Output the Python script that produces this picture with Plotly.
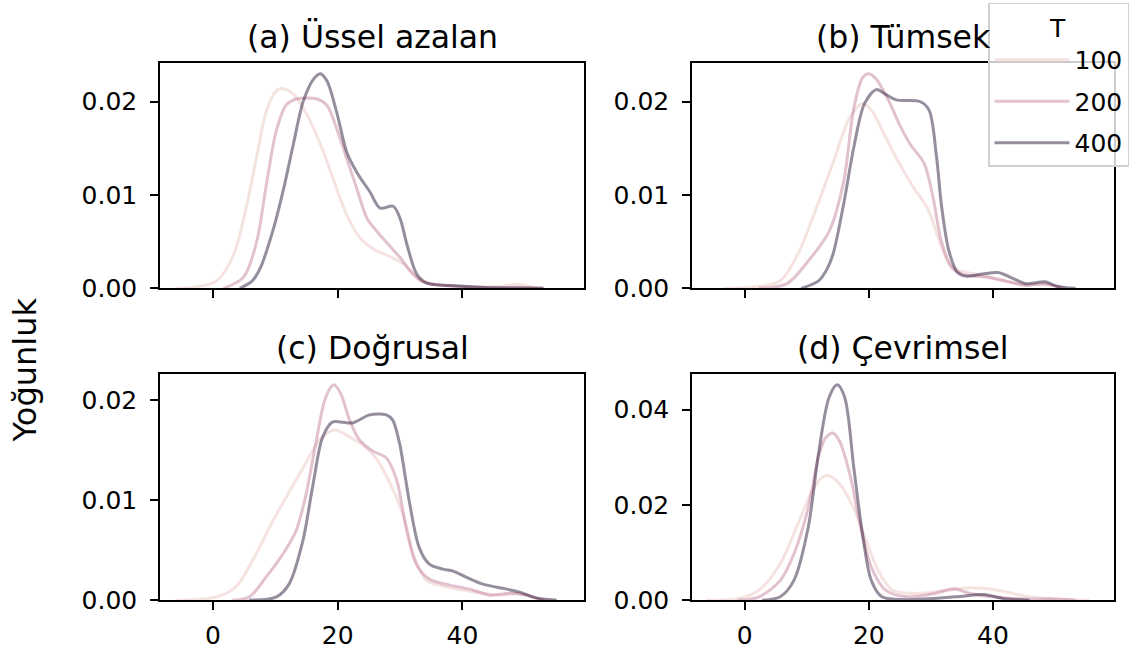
import plotly.graph_objects as go

W, H = 1141, 665

T_LEVELS = [100, 200, 400]
PANEL_TITLES = ["(a) Üssel azalan", "(b) Tümsek", "(c) Doğrusal", "(d) Çevrimsel"]
Y_LABEL = "Yoğunluk"
LEGEND_TITLE = "T"
X_TICKS = [0, 20, 40]
Y_TICKS_ABC = [0.00, 0.01, 0.02]
Y_TICKS_D = [0.00, 0.02, 0.04]

# (a) Üssel azalan
a_x_100 = [-6.0, -3.2, 0.6, 3.3, 5.4, 7.0, 8.6, 10.2, 11.3, 12.9, 15.0, 17.2, 19.3, 21.5, 23.6, 25.8, 28.4, 30.6, 32.7, 34.9, 40.8, 46.1, 48.8, 52.0]
a_y_100 = [0.0, 0.0001, 0.0008, 0.0036, 0.0089, 0.0141, 0.0191, 0.0212, 0.0214, 0.0208, 0.0187, 0.0155, 0.0117, 0.0078, 0.0054, 0.0042, 0.0034, 0.0026, 0.0012, 0.0005, 0.0002, 0.0002, 0.0004, 0.0]
a_x_200 = [1.7, 4.9, 7.0, 8.6, 10.2, 11.8, 13.4, 16.7, 18.3, 19.9, 21.5, 23.1, 24.7, 26.3, 28.4, 30.0, 31.6, 33.3, 35.9, 43.4, 48.8, 53.0]
a_y_200 = [0.0, 0.0012, 0.0050, 0.0113, 0.0170, 0.0197, 0.0203, 0.0203, 0.0196, 0.0170, 0.0138, 0.0106, 0.0075, 0.0061, 0.0045, 0.0033, 0.0019, 0.0008, 0.0004, 0.0001, 0.0001, 0.0]
a_x_400 = [4.3, 6.3, 7.6, 9.7, 11.3, 12.9, 14.5, 16.1, 17.2, 18.3, 19.9, 21.5, 23.1, 25.2, 26.8, 28.9, 30.0, 31.1, 32.7, 34.3, 38.1, 43.4, 48.8, 53.0]
a_y_400 = [0.0, 0.0008, 0.0022, 0.0064, 0.0106, 0.0155, 0.0201, 0.0224, 0.0230, 0.0222, 0.0187, 0.0145, 0.0124, 0.0103, 0.0086, 0.0088, 0.0075, 0.0047, 0.0015, 0.00055, 0.0003, 0.0001, 0.00003, 0.0]

# (b) Tümsek
b_x_100 = [-3.4, 2.3, 5.7, 8.5, 11.3, 14.2, 17.0, 19.0, 20.4, 22.7, 24.9, 27.2, 29.5, 31.2, 32.9, 34.6, 37.4, 40.8, 44.2, 48.2, 51.6]
b_y_100 = [0.0, 0.0002, 0.0008, 0.0036, 0.0082, 0.0134, 0.0184, 0.0198, 0.0191, 0.0162, 0.0134, 0.0108, 0.0085, 0.0054, 0.0027, 0.0019, 0.0015, 0.0010, 0.0005, 0.0004, 0.0001]
b_x_200 = [2.3, 6.8, 10.2, 13.6, 15.9, 17.6, 19.0, 20.0, 21.2, 23.2, 24.9, 26.6, 28.9, 30.3, 31.7, 33.4, 35.1, 39.1, 43.1, 45.3, 48.2, 51.0]
b_y_200 = [0.0, 0.0005, 0.0029, 0.0061, 0.0113, 0.0194, 0.0226, 0.0230, 0.0224, 0.0201, 0.0176, 0.0155, 0.0134, 0.0099, 0.0050, 0.0022, 0.0015, 0.0012, 0.0006, 0.0003, 0.0005, 0.0001]
b_x_400 = [9.1, 11.9, 13.2, 14.2, 15.9, 17.6, 19.3, 21.2, 22.7, 24.4, 28.3, 29.7, 30.9, 31.7, 32.9, 34.3, 35.7, 38.0, 40.8, 43.1, 45.3, 48.4, 50.4, 53.3]
b_y_400 = [0.0, 0.0008, 0.0020, 0.0036, 0.0089, 0.0152, 0.0198, 0.0213, 0.0208, 0.0202, 0.0200, 0.0191, 0.0141, 0.0089, 0.0040, 0.0017, 0.0013, 0.0015, 0.0017, 0.0011, 0.0005, 0.0007, 0.0002, 0.0]

# (c) Doğrusal
c_x_100 = [-6.0, 0.4, 3.6, 6.9, 9.5, 12.2, 14.9, 17.1, 19.5, 21.9, 24.0, 26.2, 28.3, 30.5, 32.1, 34.2, 36.9, 40.1, 43.3, 46.5, 48.7, 51.9, 55.0]
c_y_100 = [0.0, 0.0003, 0.0013, 0.0046, 0.0078, 0.0108, 0.0137, 0.0160, 0.0170, 0.0163, 0.0155, 0.0141, 0.0118, 0.0085, 0.0046, 0.0020, 0.0014, 0.0010, 0.0007, 0.0005, 0.0007, 0.0002, 0.0]
c_x_200 = [3.1, 5.8, 8.5, 11.2, 13.3, 14.9, 16.5, 18.1, 19.4, 20.5, 21.9, 23.5, 25.6, 27.8, 29.4, 31.0, 32.6, 34.7, 38.0, 41.2, 44.4, 47.6, 50.3, 53.0]
c_y_200 = [0.0, 0.0003, 0.0023, 0.0046, 0.0069, 0.0105, 0.0157, 0.0203, 0.0215, 0.0206, 0.0180, 0.0160, 0.0149, 0.0142, 0.0121, 0.0072, 0.0036, 0.0021, 0.0015, 0.0011, 0.0005, 0.0007, 0.0005, 0.0]
c_x_400 = [5.8, 10.1, 12.2, 14.4, 16.0, 17.6, 19.2, 20.5, 22.4, 25.1, 27.8, 28.8, 29.9, 31.5, 33.1, 34.7, 36.9, 38.5, 40.6, 43.3, 47.1, 49.2, 51.9, 55.1]
c_y_400 = [0.0, 0.0003, 0.0016, 0.0059, 0.0114, 0.0163, 0.0178, 0.0178, 0.0177, 0.0185, 0.0185, 0.0180, 0.0157, 0.0098, 0.0052, 0.0036, 0.0031, 0.0029, 0.0023, 0.0016, 0.0011, 0.0008, 0.0002, 0.0]

# (d) Çevrimsel
d_x_100 = [-6.2, -1.1, 2.3, 5.7, 8.5, 10.8, 12.5, 13.6, 15.3, 17.6, 19.8, 21.5, 23.8, 27.2, 31.7, 36.3, 40.8, 45.3, 49.9, 55.5]
d_y_100 = [0.0, 0.0003, 0.0021, 0.0076, 0.0158, 0.0227, 0.0258, 0.0261, 0.0244, 0.0192, 0.0117, 0.0062, 0.0021, 0.0014, 0.0019, 0.0026, 0.0021, 0.0008, 0.0002, 0.0]
d_x_200 = [-1.1, 2.3, 5.7, 7.9, 10.2, 11.9, 13.0, 14.2, 15.3, 17.0, 18.7, 20.4, 22.7, 26.1, 30.6, 33.7, 36.3, 39.7, 45.9, 49.3, 53.3]
d_y_200 = [0.0, 0.0007, 0.0041, 0.0096, 0.0192, 0.0302, 0.0340, 0.0351, 0.0333, 0.0261, 0.0151, 0.0069, 0.0021, 0.0007, 0.0014, 0.0024, 0.0014, 0.0007, 0.0002, 0.0003, 0.0]
d_x_400 = [2.8, 5.7, 7.9, 10.2, 11.9, 13.6, 14.9, 16.1, 17.6, 19.0, 20.4, 22.1, 26.1, 34.0, 38.5, 41.9, 45.9]
d_y_400 = [0.0, 0.0007, 0.0041, 0.0151, 0.0309, 0.0426, 0.0452, 0.0426, 0.0275, 0.0137, 0.0041, 0.0007, 0.0001, 0.0007, 0.0012, 0.0003, 0.0]

PANEL_DATA = [
    [(a_x_100, a_y_100), (a_x_200, a_y_200), (a_x_400, a_y_400)],
    [(b_x_100, b_y_100), (b_x_200, b_y_200), (b_x_400, b_y_400)],
    [(c_x_100, c_y_100), (c_x_200, c_y_200), (c_x_400, c_y_400)],
    [(d_x_100, d_y_100), (d_x_200, d_y_200), (d_x_400, d_y_400)],
]

COLORS = ["rgba(237,209,203,0.6)", "rgba(199,133,161,0.5)", "rgba(45,30,62,0.5)"]
FONT = "DejaVu Sans"

# pixel layout of axes boxes (left, right, top, bottom)
BOXES = [(160, 584, 64, 295), (692, 1114, 64, 295), (160, 584, 383, 614), (692, 1114, 383, 614)]
Y_RANGES = [[0, 0.0242], [0, 0.0242], [0, 0.02255], [0, 0.0474]]
X_RANGE = [-8.5, 59.5]

fig = go.Figure()
for p, curves in enumerate(PANEL_DATA):
    sfx = "" if p == 0 else str(p + 1)
    for k, (xs, ys) in enumerate(curves):
        fig.add_trace(go.Scatter(
            x=xs, y=ys, mode="lines",
            line=dict(color=COLORS[k], width=3, shape="spline", smoothing=0.9),
            name=str(T_LEVELS[k]), legendgroup=str(T_LEVELS[k]),
            showlegend=(p == 0),
            xaxis="x" + sfx, yaxis="y" + sfx,
        ))

layout = dict(
    width=W, height=H, margin=dict(l=0, r=0, t=0, b=0),
    paper_bgcolor="white", plot_bgcolor="white",
    font=dict(family=FONT, size=25, color="black"),
    showlegend=True,
    legend=dict(
        x=988 / W, y=1 - 3 / H, xanchor="left", yanchor="top",
        bgcolor="rgba(255,255,255,0.8)", bordercolor="#d0d0d0", borderwidth=1.5,
        title=dict(text=LEGEND_TITLE, side="top center", font=dict(size=25)),
        font=dict(size=25), tracegroupgap=6, itemwidth=75,
    ),
)

annotations = []
for p, (l, r, t, b) in enumerate(BOXES):
    sfx = "" if p == 0 else str(p + 1)
    xa = dict(
        domain=[l / W, r / W], range=X_RANGE, anchor="y" + sfx,
        tickvals=X_TICKS, showticklabels=(p >= 2),
        showline=True, linecolor="black", linewidth=1.5, mirror=True,
        ticks="outside", ticklen=8, tickwidth=1.5, tickcolor="black",
        showgrid=False, zeroline=False, ticklabelstandoff=4,
    )
    ya = dict(
        domain=[1 - b / H, 1 - t / H], range=Y_RANGES[p], anchor="x" + sfx,
        tickvals=(Y_TICKS_D if p == 3 else Y_TICKS_ABC), tickformat=".2f",
        showline=True, linecolor="black", linewidth=1.5, mirror=True,
        ticks="outside", ticklen=8, tickwidth=1.5, tickcolor="black",
        showgrid=False, zeroline=False, ticklabelstandoff=8,
    )
    layout["xaxis" + sfx] = xa
    layout["yaxis" + sfx] = ya
    annotations.append(dict(
        text=PANEL_TITLES[p], xref="paper", yref="paper",
        x=(l + r) / 2 / W, y=1 - t / H, xanchor="center", yanchor="bottom",
        yshift=6, showarrow=False, font=dict(size=31.5, family=FONT, color="black"),
    ))

annotations.append(dict(
    text=Y_LABEL, xref="paper", yref="paper", x=25 / W, y=1 - 379 / H,
    xanchor="center", yanchor="middle", textangle=-90, showarrow=False,
    font=dict(size=32, family=FONT, color="black"),
))
layout["annotations"] = annotations

fig.update_layout(**layout)
fig.write_html("out.html")
